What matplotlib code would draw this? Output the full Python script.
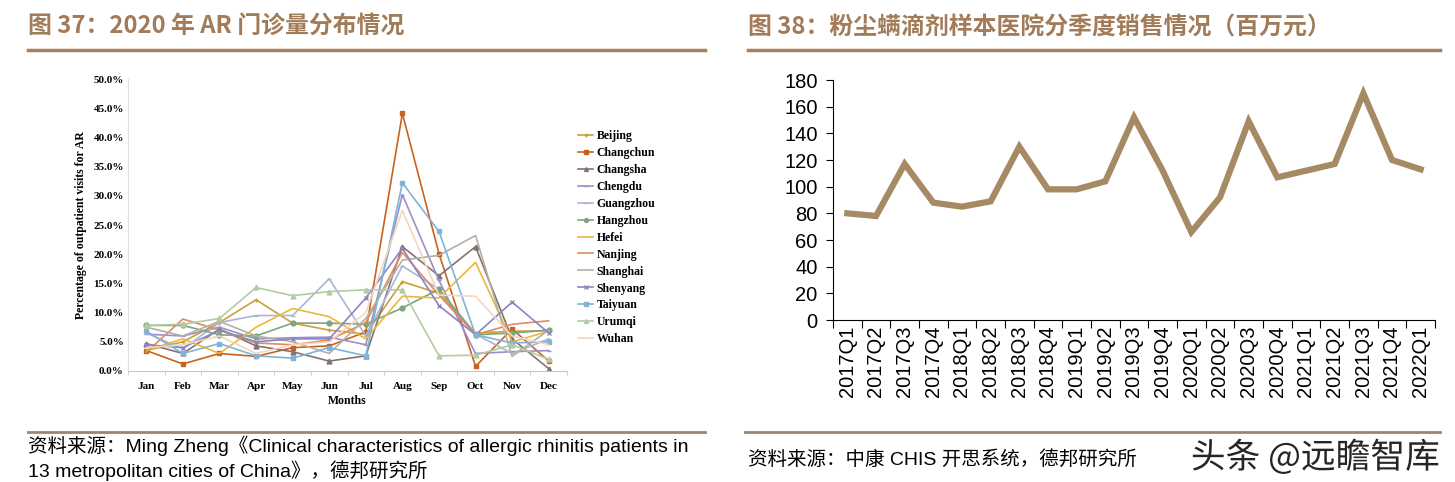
import matplotlib.pyplot as plt
from matplotlib.lines import Line2D
import matplotlib.patheffects as pe

plt.rcParams['font.family'] = ['Liberation Sans', 'Noto Sans CJK SC']

# ---- left chart data (percent of outpatient visits for AR, 2020) ----
months = ['Jan', 'Feb', 'Mar', 'Apr', 'May', 'Jun', 'Jul', 'Aug', 'Sep', 'Oct', 'Nov', 'Dec']
beijing = [3.5, 5.0, 8.3, 12.2, 8.2, 7.0, 6.3, 15.3, 13.3, 6.5, 6.8, 6.9]
changchun = [3.5, 1.2, 3.0, 2.5, 4.0, 4.3, 6.7, 44.1, 20.1, 0.8, 7.2, 1.7]
changsha = [4.7, 3.0, 7.2, 4.3, 3.3, 1.7, 2.6, 21.3, 16.3, 21.3, 5.5, 0.4]
chengdu = [6.3, 6.0, 7.5, 5.5, 5.7, 5.8, 4.5, 30.2, 15.5, 3.0, 3.3, 3.5]
guangzhou = [6.5, 3.8, 8.3, 9.5, 9.5, 15.8, 6.0, 18.0, 14.0, 6.3, 3.0, 5.5]
hangzhou = [7.8, 7.8, 6.2, 6.0, 8.2, 8.2, 8.0, 10.8, 14.0, 6.2, 6.5, 7.0]
hefei = [3.5, 5.5, 3.0, 7.5, 10.7, 9.3, 5.5, 12.8, 12.5, 18.6, 5.0, 6.8]
nanjing = [3.2, 8.9, 7.0, 4.8, 4.5, 5.3, 8.3, 20.3, 13.0, 6.2, 8.0, 8.6]
shanghai = [7.5, 6.0, 8.5, 6.0, 5.0, 3.0, 9.0, 19.0, 19.8, 23.2, 2.5, 7.0]
shenyang = [4.5, 4.0, 7.0, 5.0, 5.5, 5.5, 12.5, 21.0, 11.2, 6.2, 11.8, 6.5]
taiyuan = [6.8, 3.0, 4.7, 2.6, 2.2, 4.0, 2.6, 32.2, 23.9, 6.2, 4.8, 5.0]
urumqi = [7.8, 8.0, 9.0, 14.3, 12.9, 13.6, 13.9, 13.9, 2.6, 2.7, 4.5, 2.0]
wuhan = [4.0, 4.5, 6.0, 3.0, 4.5, 5.0, 10.0, 27.5, 13.0, 12.8, 6.0, 4.5]

cities = ['Beijing', 'Changchun', 'Changsha', 'Chengdu', 'Guangzhou', 'Hangzhou', 'Hefei',
          'Nanjing', 'Shanghai', 'Shenyang', 'Taiyuan', 'Urumqi', 'Wuhan']
series = [beijing, changchun, changsha, chengdu, guangzhou, hangzhou, hefei,
          nanjing, shanghai, shenyang, taiyuan, urumqi, wuhan]
colors = ['#C9A03C', '#C8621E', '#847272', '#9B8FCB', '#A9B6D3', '#7FA57F', '#EDB73A',
          '#E58A5B', '#B4B0A6', '#8A86C2', '#7FB3D8', '#B2CCA0', '#F3D6BE']
markers = ['+', 's', '^', '_', '_', 'o', '', '', '', 'x', 's', '^', '']

# ---- right chart data (sales, million yuan) ----
quarters = ['2017Q1', '2017Q2', '2017Q3', '2017Q4', '2018Q1', '2018Q2', '2018Q3', '2018Q4',
            '2019Q1', '2019Q2', '2019Q3', '2019Q4', '2020Q1', '2020Q2', '2020Q3', '2020Q4',
            '2021Q1', '2021Q2', '2021Q3', '2021Q4', '2022Q1']
sales = [80, 78, 117, 88, 85, 89, 130, 98, 98, 104, 152, 112, 66, 92, 149, 107,
         112, 117, 170, 120, 113]

title_color = '#A27B58'
rule_color = '#A5815E'

fig = plt.figure(figsize=(14.55, 4.82), dpi=100)

# titles + rules
fig.text(28 / 1455, 1 - 27 / 482, '图 37：2020 年 AR 门诊量分布情况', fontsize=17.2,
         fontweight='bold', color=title_color, va='center', ha='left', family=['Noto Sans CJK SC'])
fig.text(748 / 1455, 1 - 27 / 482, '图 38：粉尘螨滴剂样本医院分季度销售情况（百万元）', fontsize=17.2,
         fontweight='bold', color=title_color, va='center', ha='left', family=['Noto Sans CJK SC'])
for x0, x1 in [(28, 705), (748, 1440)]:
    fig.add_artist(Line2D([x0 / 1455, x1 / 1455], [1 - 50 / 482] * 2, color=rule_color, lw=2.5))
for x0, x1 in [(28, 705), (745, 1440)]:
    fig.add_artist(Line2D([x0 / 1455, x1 / 1455], [1 - 432 / 482] * 2, color='#9C8570', lw=2))

# ---- left chart ----
ax = fig.add_axes([128 / 1455, 1 - 371 / 482, (567 - 128) / 1455, (371 - 79) / 482])
x = list(range(len(months)))
for name, vals, c, m in zip(cities, series, colors, markers):
    ax.plot(x, vals, color=c, lw=1.2, marker=m if m else None, ms=3.5, mew=1, label=name)
ax.set_xlim(-0.5, 11.5)
ax.set_ylim(0, 50)
ax.set_yticks(range(0, 51, 5))
ax.set_yticklabels([f'{v:.1f}%' for v in range(0, 51, 5)])
ax.set_xticks(x)
ax.set_xticklabels(months)
ax.set_xticks([i + 0.5 for i in range(-1, 12)], minor=True)
ax.tick_params(axis='x', which='major', length=0, pad=8)
ax.tick_params(axis='x', which='minor', length=3, color='#C8C8C8')
ax.tick_params(axis='y', length=0, pad=3)
for lbl in ax.get_xticklabels() + ax.get_yticklabels():
    lbl.set_family(['Liberation Serif'])
    lbl.set_fontweight('bold')
    lbl.set_fontsize(8)
for s in ['top', 'right']:
    ax.spines[s].set_visible(False)
ax.spines['left'].set_color('#E0E0E0')
ax.spines['bottom'].set_color('#C8C8C8')
ax.set_xlabel('Months', family=['Liberation Serif'], fontweight='bold', fontsize=8.5, labelpad=3)
ax.set_ylabel('Percentage of outpatient visits for AR', family=['Liberation Serif'],
              fontweight='bold', fontsize=8.5, labelpad=5)
ax.legend(loc='upper left', bbox_to_anchor=(572 / 1455, 1 - 124 / 482), bbox_transform=fig.transFigure,
          frameon=False, prop={'family': 'Liberation Serif', 'weight': 'bold', 'size': 8.5},
          labelspacing=0.42, handlelength=1.3, handletextpad=0.3, borderpad=0, markerscale=0.8)

# ---- right chart ----
ax2 = fig.add_axes([833 / 1455, 1 - 320 / 482, (1435 - 833) / 1455, (320 - 80) / 482])
xq = list(range(len(quarters)))
ax2.plot(xq, sales, color='#A68A64', lw=4.5, solid_joinstyle='miter')
ax2.set_xlim(-0.5, 20.5)
ax2.set_ylim(0, 180)
ax2.set_yticks(range(0, 181, 20))
ax2.set_xticks(xq)
ax2.set_xticklabels(quarters, rotation=90)
ax2.set_xticks([i + 0.5 for i in range(-1, 21)], minor=True)
ax2.tick_params(axis='x', which='major', length=0, labelsize=14.5, pad=4)
ax2.tick_params(axis='x', which='minor', length=6, width=0.8)
ax2.tick_params(axis='y', length=5, width=0.8, labelsize=14.5, pad=6)
for s in ['top', 'right']:
    ax2.spines[s].set_visible(False)
ax2.spines['left'].set_linewidth(0.8)
ax2.spines['bottom'].set_linewidth(0.8)

# sources
fig.text(28 / 1455, 1 - 446 / 482,
         '资料来源：Ming Zheng《Clinical characteristics of allergic rhinitis patients in',
         fontsize=14, va='center', ha='left')
fig.text(28 / 1455, 1 - 471 / 482, '13 metropolitan cities of China》，德邦研究所',
         fontsize=14, va='center', ha='left')
fig.text(748 / 1455, 1 - 460 / 482, '资料来源：中康 CHIS 开思系统，德邦研究所',
         fontsize=14, va='center', ha='left')
fig.text(1440 / 1455, 1 - 458 / 482, '头条 @远瞻智库', fontsize=25, color='#262626',
         va='center', ha='right', family=['Noto Sans CJK SC'],
         path_effects=[pe.withStroke(linewidth=3, foreground='white')])

fig.savefig('out.png', dpi=100)
